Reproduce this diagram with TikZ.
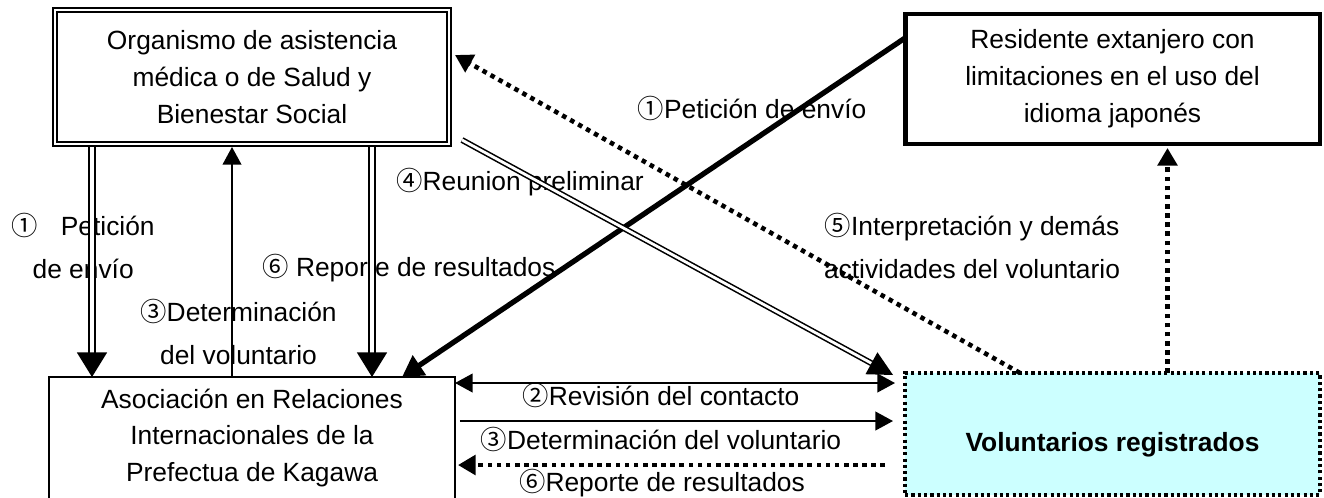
\documentclass[tikz,border=0pt]{standalone}
\usepackage{fontspec}
\setmainfont{Liberation Sans}
\newfontfamily\cjk{Noto Sans CJK JP}
\newcommand{\circnum}[1]{{\cjk #1}}
\usetikzlibrary{arrows.meta,calc}
\definecolor{volcyan}{RGB}{204,255,255}

\tikzstyle{box}=[draw, line width=1pt, outer sep=0pt, align=center, font=\fontsize{15}{21}\selectfont]
\tikzstyle{dblbox}=[box, double, line width=0.9pt, double distance=1.5pt]
\tikzstyle{thickbox}=[box, line width=2.8pt]
\tikzstyle{dotbox}=[box, fill=volcyan, line width=1.8pt, dash pattern=on 1.8pt off 1.8pt]
\tikzstyle{lbl}=[inner sep=0pt, align=center, font=\fontsize{15}{24}\selectfont]
\tikzstyle{dblarrow}=[double, line width=1.1pt, double distance=2.4pt, -{Triangle[width=17pt,length=14pt]}]
\tikzstyle{dbldiag}=[double, line width=0.9pt, double distance=1.6pt, -{Triangle[width=14pt,length=14pt]}]
\tikzstyle{thinarrow}=[line width=1.3pt, -{Triangle[width=10.5pt,length=10pt]}]
\tikzstyle{thickarrow}=[line width=3pt, -{Triangle[width=13pt,length=12pt]}]
\tikzstyle{dotarrow}=[line width=2.6pt, dash pattern=on 2.6pt off 2.6pt, -{Triangle[width=11pt,length=10pt]}]

\begin{document}
\begin{tikzpicture}[x=0.02cm, y=-0.02cm]
    \useasboundingbox (0,0) rectangle (1324,497);
    \clip (0,0) rectangle (1324,497);

    \node[dblbox, minimum width=7.88cm, minimum height=2.68cm] (org) at (252,77)
        {Organismo de asistencia\\médica o de Salud y\\Bienestar Social};
    \node[thickbox, minimum width=8.3cm, minimum height=2.6cm] (res) at (1112.5,79)
        {Residente extanjero con\\limitaciones en el uso del\\idioma japonés};
    \node[box, minimum width=8.12cm, minimum height=2.44cm] (asoc) at (252,438)
        {Asociación en Relaciones\\Internacionales de la\\Prefectua de Kagawa};
    \node[dotbox, minimum width=8.3cm, minimum height=2.44cm] (vol) at (1112.5,434)
        {\raisebox{-10pt}[0pt][0pt]{\bfseries Voluntarios registrados}};

    \node[lbl, anchor=east] (l1a) at (155,246) {\circnum{①}\hspace{13pt}Petición\\de envío};
    \node[lbl, anchor=east] (l3a) at (337,332) {\circnum{③}Determinación\\del voluntario};
    \node[lbl, anchor=west] (l6a) at (262,268) {\circnum{⑥} Reporte de resultados};
    \node[lbl] (l1b) at (752,108) {\circnum{①}Petición de envío};
    \node[lbl] (l4) at (520,182) {\circnum{④}Reunion preliminar};
    \node[lbl] (l5) at (972,246) {\circnum{⑤}Interpretación y demás\\actividades del voluntario};
    \node[lbl] (l2) at (661,395) {\circnum{②}Revisión del contacto};
    \node[lbl] (l3b) at (661,439) {\circnum{③}Determinación del voluntario};
    \node[lbl] (l6b) at (662,483) {\circnum{⑥}Reporte de resultados};

    \draw[dblarrow] ($(org.south)+(-160,3)$) to ($(asoc.north)+(-160,0)$);
    \draw[thinarrow] ($(asoc.north)+(-20,0)$) to ($(org.south)+(-20,3)$);
    \draw[dblarrow] ($(org.south)+(120,3)$) to ($(asoc.north)+(120,0)$);
    \draw[thickarrow] ($(res.west)+(0,-41)$) to ($(asoc.north)+(150,0)$);
    \draw[dbldiag] ($(org.south east)+(13,-4)$) to ($(vol.north west)+(-12,2)$);
    \draw[dotarrow] ($(vol.north west)+(115,0)$) to ($(org.east)+(6,-22)$);
    \draw[dotarrow] ($(vol.north)+(55,0)$) to ($(res.south)+(55,4)$);
    \draw[thinarrow, {Triangle[width=10.5pt,length=10pt]}-{Triangle[width=10.5pt,length=10pt]}] ($(asoc.north east)+(0,6)$) to ($(vol.north west)+(-10,10)$);
    \draw[thinarrow] ($(asoc.north east)+(5,44)$) to ($(vol.north west)+(-12,48)$);
    \draw[dotarrow] ($(vol.north west)+(-20,92)$) to ($(asoc.north east)+(3,88)$);
  \end{tikzpicture}
\end{document}
